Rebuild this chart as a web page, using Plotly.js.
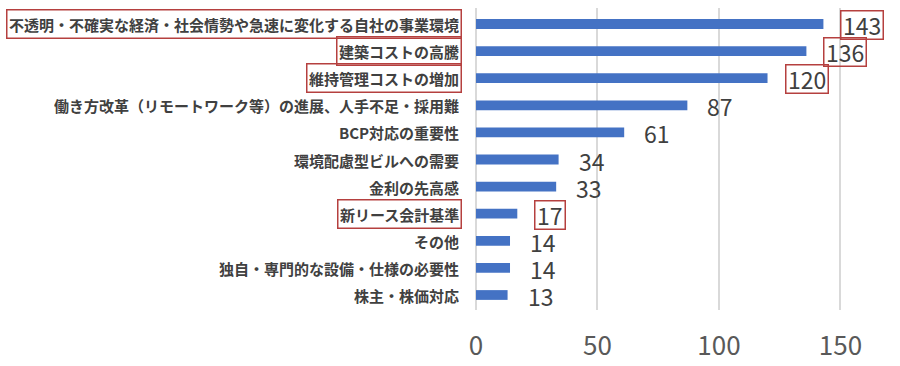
<!DOCTYPE html>
<html>
<head>
<meta charset="utf-8">
<script src="https://cdn.plot.ly/plotly-3.0.1.min.js"></script>
<style>html,body{margin:0;padding:0;background:#fff;}#chart{width:900px;height:366px;}</style>
</head>
<body>
<div id="chart"></div>
<script>
const categories = [
  "不透明・不確実な経済・社会情勢や急速に変化する自社の事業環境",
  "建築コストの高騰",
  "維持管理コストの増加",
  "働き方改革（リモートワーク等）の進展、人手不足・採用難",
  "BCP対応の重要性",
  "環境配慮型ビルへの需要",
  "金利の先高感",
  "新リース会計基準",
  "その他",
  "独自・専門的な設備・仕様の必要性",
  "株主・株価対応"
];
const values = [143, 136, 120, 87, 61, 34, 33, 17, 14, 14, 13];
const highlighted = [true, true, true, false, false, false, false, true, false, false, false];
const xTicks = [0, 50, 100, 150];

const boxColor = "#B5403F";
const font = '"Noto Sans CJK JP", "Noto Sans", sans-serif';

const annotations = [];
categories.forEach((c, i) => {
  annotations.push({
    xref: "paper", yref: "y", x: 0, y: c,
    xanchor: "right", yanchor: "middle", xshift: -14,
    text: c, showarrow: false, height: 24,
    font: {family: font, size: 15, color: "#404040", weight: "bold"},
    bordercolor: highlighted[i] ? boxColor : "rgba(0,0,0,0)",
    borderwidth: 1.5, borderpad: 1.5
  });
  annotations.push({
    xref: "x", yref: "y", x: values[i], y: c,
    xanchor: "left", yanchor: "middle", xshift: 17, yshift: -1,
    text: String(values[i]), showarrow: false, height: 24,
    font: {family: font, size: 23, color: "#404040"},
    bordercolor: highlighted[i] ? boxColor : "rgba(0,0,0,0)",
    borderwidth: 1.5, borderpad: 1.5
  });
});

const trace = {
  type: "bar", orientation: "h",
  x: values, y: categories,
  marker: {color: "#4472C4"},
  hoverinfo: "none"
};

const layout = {
  width: 900, height: 366,
  margin: {l: 476, r: 11, t: 8, b: 56},
  paper_bgcolor: "#fff", plot_bgcolor: "#fff",
  showlegend: false,
  bargap: 0.64,
  xaxis: {
    range: [0, 170], tickvals: xTicks, ticktext: xTicks.map(String),
    showgrid: true, gridcolor: "#D9D9D9", gridwidth: 2,
    zeroline: true, zerolinecolor: "#D9D9D9", zerolinewidth: 2,
    showline: false, ticks: "", ticklabelstandoff: 18,
    tickfont: {family: font, size: 26, color: "#595959"},
    fixedrange: true
  },
  yaxis: {
    autorange: "reversed", showticklabels: false, showgrid: false,
    zeroline: false, showline: false, ticks: "", fixedrange: true
  },
  annotations: annotations
};

Plotly.newPlot("chart", [trace], layout, {displayModeBar: false, staticPlot: true});
</script>
</body>
</html>
